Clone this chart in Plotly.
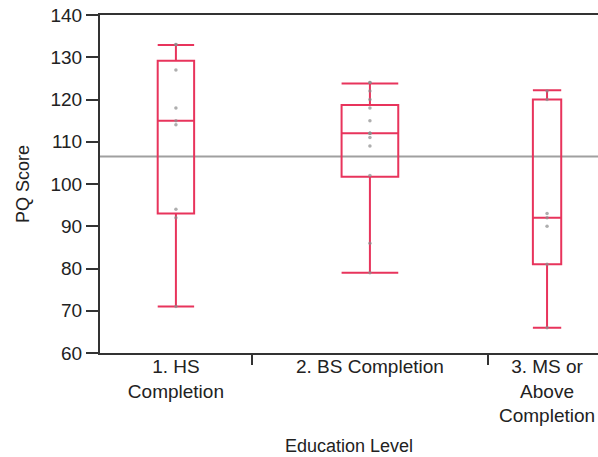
import plotly.graph_objects as go

# ---- data ----
categories = ["1. HS<br>Completion", "2. BS Completion", "3. MS or<br>Above<br>Completion"]
group_sizes = [9, 14, 7]

hs_points = [71, 92, 94, 114, 115, 118, 127, 133, 133]
bs_points = [79, 86, 102, 109, 111, 112, 112, 112, 115, 118, 120, 122, 124, 124]
ms_points = [66, 81, 90, 92, 93, 120, 122]

lower_whisker = [71, 79, 66]
q1_values = [93, 101.7, 81]
median_values = [115, 112, 92]
q3_values = [129.2, 118.7, 120]
upper_whisker = [132.9, 123.8, 122.2]

grand_mean = 106.5

y_ticks = [60, 70, 80, 90, 100, 110, 120, 130, 140]

# ---- layout helpers (category widths proportional to group size) ----
bounds = [0]
for n in group_sizes:
    bounds.append(bounds[-1] + n)
centers = [(bounds[i] + bounds[i + 1]) / 2 for i in range(len(group_sizes))]
box_frac = 0.24
x_max = 29.52

BOX_COLOR = "rgb(232,52,92)"
AXIS_COLOR = "#333333"
FONT = "Liberation Sans, Arial, Helvetica, sans-serif"

fig = go.Figure()

all_points = [hs_points, bs_points, ms_points]
for i in range(3):
    fig.add_trace(go.Box(
        x=[centers[i]],
        q1=[q1_values[i]], median=[median_values[i]], q3=[q3_values[i]],
        lowerfence=[lower_whisker[i]], upperfence=[upper_whisker[i]],
        width=box_frac * group_sizes[i],
        whiskerwidth=1,
        line=dict(color=BOX_COLOR, width=2),
        fillcolor="rgba(0,0,0,0)",
        boxpoints=False,
        hoverinfo="skip",
        showlegend=False,
    ))
    fig.add_trace(go.Scatter(
        x=[centers[i]] * len(all_points[i]),
        y=all_points[i],
        mode="markers",
        marker=dict(color="rgba(140,140,140,0.7)", size=3.5),
        showlegend=False,
        hoverinfo="skip",
    ))

# invisible trace for label axis
fig.add_trace(go.Scatter(x=centers, y=[None] * 3, xaxis="x2", mode="markers",
                         showlegend=False, hoverinfo="skip"))

fig.add_shape(type="line", xref="paper", x0=0, x1=1, yref="y", y0=grand_mean, y1=grand_mean,
              line=dict(color="#a0a0a0", width=2), layer="below")

fig.update_layout(
    width=598, height=457,
    margin=dict(l=100, r=0, t=15, b=104),
    plot_bgcolor="white", paper_bgcolor="white",
    font=dict(family=FONT, size=18, color="#222222"),
    xaxis=dict(
        range=[0, x_max],
        tickmode="array", tickvals=bounds[1:-1], ticktext=["", ""],
        ticks="outside", ticklen=10, tickwidth=1.5, tickcolor=AXIS_COLOR,
        showline=True, linecolor=AXIS_COLOR, linewidth=2, mirror=True,
        showgrid=False, zeroline=False,
        title=dict(text="Education Level", font=dict(size=18), standoff=72),
    ),
    xaxis2=dict(
        range=[0, x_max], overlaying="x", side="bottom", anchor="y",
        tickmode="array", tickvals=centers, ticktext=categories,
        ticks="", showline=False, showgrid=False, zeroline=False,
        tickfont=dict(size=19, color="#222222"),
    ),
    yaxis=dict(
        range=[60, 140],
        tickmode="array", tickvals=y_ticks,
        ticks="outside", ticklen=12, tickwidth=1.5, tickcolor=AXIS_COLOR,
        showline=True, linecolor=AXIS_COLOR, linewidth=2,
        showgrid=False, zeroline=False,
        tickfont=dict(size=19),
        title=dict(text="PQ Score", font=dict(size=18), standoff=16),
    ),
)

fig.write_html("out.html")
